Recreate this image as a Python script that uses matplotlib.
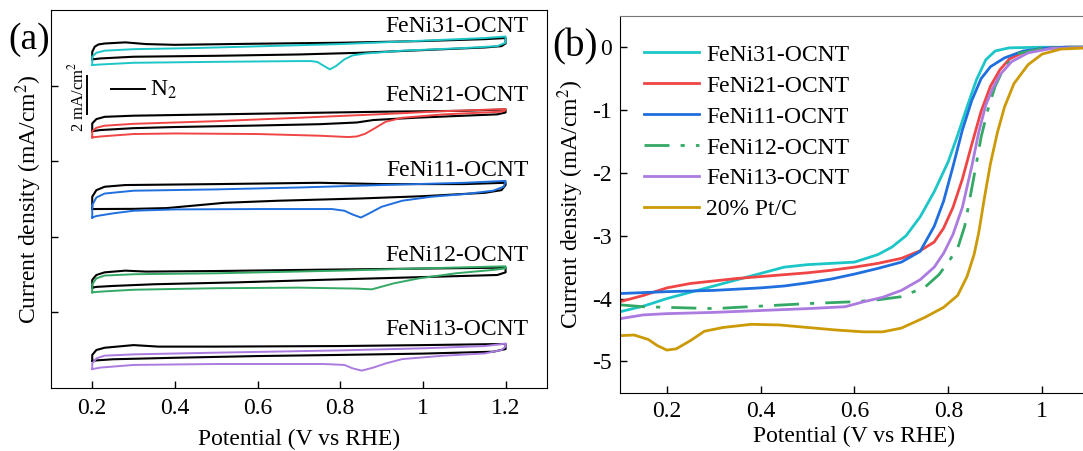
import matplotlib
matplotlib.use('Agg')
import matplotlib.pyplot as plt
import numpy as np
from matplotlib.ticker import FuncFormatter

plt.rcParams['font.family'] = ['Liberation Serif', 'DejaVu Serif']
plt.rcParams['mathtext.fontset'] = 'stix'
plt.rcParams['axes.unicode_minus'] = False
plt.rcParams['font.size'] = 17

# ---- panel (a): CV loops, (potential V, current mA/cm2), anodic then cathodic
CV31_N2 = [(0.200, -0.11), (0.200, 0.29), (0.206, 0.56), (0.215, 0.68), (0.23, 0.73), (0.28, 0.79),
           (0.33, 0.70), (0.40, 0.66), (0.60, 0.72), (0.80, 0.77), (1.00, 0.86), (1.15, 0.96), (1.20, 1.02),
           (1.20, 0.73), (1.19, 0.59), (1.15, 0.52), (1.00, 0.38), (0.85, 0.24), (0.70, 0.15), (0.50, 0.08),
           (0.30, 0.03), (0.22, -0.06), (0.200, -0.11)]
CV31_O2 = [(0.200, -0.41), (0.200, 0.03), (0.21, 0.24), (0.23, 0.35), (0.30, 0.43), (0.45, 0.49), (0.60, 0.58),
           (0.80, 0.70), (1.00, 0.88), (1.15, 1.02), (1.20, 1.10),
           (1.20, 0.77), (1.18, 0.59), (1.10, 0.49), (0.95, 0.35), (0.86, 0.20), (0.83, 0.10), (0.81, -0.11),
           (0.79, -0.46), (0.775, -0.64), (0.76, -0.45), (0.745, -0.25), (0.73, -0.20), (0.70, -0.20),
           (0.50, -0.24), (0.30, -0.29), (0.22, -0.38), (0.200, -0.41)]
CV21_N2 = [(0.200, -0.41), (0.200, 0.0), (0.21, 0.23), (0.23, 0.35), (0.30, 0.41), (0.50, 0.48), (0.70, 0.55),
           (0.90, 0.62), (1.10, 0.67), (1.20, 0.74),
           (1.20, 0.58), (1.18, 0.48), (1.10, 0.41), (0.98, 0.30), (0.88, 0.18), (0.84, 0.05), (0.75, -0.04),
           (0.60, -0.11), (0.40, -0.19), (0.30, -0.25), (0.22, -0.35), (0.200, -0.41)]
CV21_O2 = [(0.200, -0.74), (0.200, -0.41), (0.21, -0.23), (0.23, -0.12), (0.30, -0.02), (0.50, 0.12),
           (0.70, 0.30), (0.90, 0.49), (1.05, 0.65), (1.20, 0.76),
           (1.20, 0.70), (1.19, 0.62), (1.15, 0.58), (1.05, 0.48), (0.95, 0.30), (0.91, 0.09), (0.88, -0.30),
           (0.86, -0.55), (0.84, -0.69), (0.82, -0.72), (0.75, -0.65), (0.60, -0.56), (0.40, -0.53),
           (0.30, -0.56), (0.22, -0.69), (0.200, -0.74)]
CV11_N2 = [(0.200, -0.53), (0.200, 0.12), (0.21, 0.47), (0.23, 0.65), (0.28, 0.74), (0.50, 0.79), (0.75, 0.86),
           (0.90, 0.79), (1.10, 0.79), (1.20, 0.86),
           (1.20, 0.74), (1.19, 0.47), (1.15, 0.33), (1.00, 0.15), (0.85, 0.03), (0.65, -0.09), (0.52, -0.20),
           (0.45, -0.34), (0.38, -0.48), (0.30, -0.52), (0.200, -0.53)]
CV11_O2 = [(0.200, -0.98), (0.200, -0.32), (0.21, 0.08), (0.23, 0.29), (0.30, 0.44), (0.50, 0.51), (0.70, 0.61),
           (0.90, 0.74), (1.10, 0.86), (1.20, 0.96),
           (1.20, 0.91), (1.195, 0.65), (1.17, 0.44), (1.10, 0.26), (1.02, 0.12), (0.95, -0.09), (0.90, -0.41),
           (0.87, -0.76), (0.85, -0.98), (0.83, -0.82), (0.81, -0.62), (0.78, -0.53), (0.60, -0.53),
           (0.40, -0.55), (0.30, -0.62), (0.25, -0.76), (0.21, -0.90), (0.200, -0.98)]
CV12_N2 = [(0.200, -0.69), (0.200, -0.28), (0.21, -0.02), (0.23, 0.12), (0.28, 0.21), (0.33, 0.16), (0.50, 0.19),
           (0.75, 0.26), (1.00, 0.32), (1.20, 0.37),
           (1.20, 0.12), (1.18, -0.02), (1.10, -0.07), (0.95, -0.16), (0.75, -0.28), (0.55, -0.41),
           (0.35, -0.51), (0.25, -0.60), (0.21, -0.65), (0.200, -0.69)]
CV12_O2 = [(0.200, -0.94), (0.200, -0.51), (0.21, -0.20), (0.23, -0.05), (0.30, 0.02), (0.50, 0.07), (0.80, 0.21),
           (1.00, 0.33), (1.20, 0.44),
           (1.20, 0.33), (1.17, 0.25), (1.08, 0.07), (0.99, -0.20), (0.93, -0.46), (0.90, -0.64), (0.876, -0.78),
           (0.84, -0.74), (0.70, -0.69), (0.50, -0.72), (0.30, -0.80), (0.22, -0.90), (0.200, -0.94)]
CV13_N2 = [(0.200, -0.57), (0.200, -0.25), (0.21, 0.01), (0.23, 0.13), (0.30, 0.27), (0.36, 0.19), (0.50, 0.19),
           (0.80, 0.22), (1.00, 0.27), (1.20, 0.33),
           (1.20, 0.06), (1.17, -0.08), (1.00, -0.18), (0.80, -0.25), (0.60, -0.31), (0.40, -0.40),
           (0.25, -0.48), (0.21, -0.54), (0.200, -0.57)]
CV13_O2 = [(0.200, -1.00), (0.200, -0.70), (0.21, -0.43), (0.23, -0.29), (0.30, -0.22), (0.50, -0.13),
           (0.80, -0.01), (1.00, 0.10), (1.15, 0.22), (1.20, 0.35),
           (1.20, 0.19), (1.19, 0.01), (1.15, -0.17), (1.05, -0.29), (0.95, -0.47), (0.91, -0.70),
           (0.88, -0.92), (0.852, -1.08), (0.83, -0.96), (0.81, -0.78), (0.76, -0.73), (0.50, -0.73),
           (0.30, -0.78), (0.22, -0.92), (0.200, -1.00)]

CV_NAMES = ['FeNi31-OCNT', 'FeNi21-OCNT', 'FeNi11-OCNT', 'FeNi12-OCNT', 'FeNi13-OCNT']
CV_N2 = [CV31_N2, CV21_N2, CV11_N2, CV12_N2, CV13_N2]
CV_O2 = [CV31_O2, CV21_O2, CV11_O2, CV12_O2, CV13_O2]
CV_OFFSETS = [17.5, 14.0, 10.0, 6.0, 2.0]
CV_LABEL_Y = [18.85, 15.2, 11.23, 6.74, 2.8]

# ---- panel (b): LSV curves
V31 = [0.10, 0.15, 0.20, 0.25, 0.30, 0.35, 0.40, 0.45, 0.50, 0.55, 0.60, 0.65, 0.68, 0.71, 0.74, 0.77,
       0.80, 0.82, 0.84, 0.86, 0.88, 0.90, 0.93, 1.00, 1.10]
J31 = [-4.21, -4.12, -4.00, -3.90, -3.80, -3.70, -3.60, -3.50, -3.46, -3.44, -3.42, -3.30, -3.18, -3.00,
       -2.70, -2.30, -1.82, -1.40, -0.95, -0.52, -0.20, -0.06, -0.01, 0.0, 0.0]
V21 = [0.10, 0.15, 0.20, 0.25, 0.30, 0.35, 0.40, 0.45, 0.50, 0.55, 0.60, 0.65, 0.70, 0.74, 0.77, 0.79,
       0.81, 0.83, 0.85, 0.87, 0.89, 0.91, 0.93, 0.96, 1.00, 1.05, 1.10]
J21 = [-4.05, -3.95, -3.83, -3.76, -3.72, -3.68, -3.65, -3.62, -3.59, -3.55, -3.50, -3.44, -3.36, -3.24,
       -3.10, -2.88, -2.55, -2.10, -1.55, -1.02, -0.62, -0.36, -0.19, -0.08, -0.02, 0.0, 0.0]
V11 = [0.10, 0.20, 0.30, 0.40, 0.45, 0.50, 0.55, 0.60, 0.65, 0.70, 0.74, 0.77, 0.79, 0.81, 0.83, 0.85,
       0.87, 0.89, 0.92, 0.96, 1.00, 1.05, 1.10]
J11 = [-3.92, -3.89, -3.87, -3.83, -3.80, -3.75, -3.69, -3.61, -3.52, -3.42, -3.25, -2.85, -2.45, -1.90,
       -1.32, -0.85, -0.50, -0.31, -0.17, -0.06, -0.02, 0.0, 0.0]
V12 = [0.10, 0.15, 0.20, 0.30, 0.40, 0.50, 0.60, 0.65, 0.70, 0.75, 0.78, 0.80, 0.82, 0.835, 0.85, 0.86,
       0.87, 0.885, 0.90, 0.92, 0.95, 1.00, 1.05, 1.10]
J12 = [-4.10, -4.13, -4.14, -4.16, -4.12, -4.08, -4.05, -4.02, -3.97, -3.82, -3.62, -3.42, -3.20, -2.85,
       -2.25, -1.85, -1.43, -0.98, -0.62, -0.31, -0.10, -0.02, 0.0, 0.0]
V13 = [0.10, 0.15, 0.20, 0.30, 0.40, 0.50, 0.58, 0.62, 0.66, 0.70, 0.74, 0.77, 0.79, 0.81, 0.83, 0.85,
       0.865, 0.88, 0.895, 0.91, 0.935, 0.97, 1.02, 1.10]
J13 = [-4.32, -4.26, -4.24, -4.22, -4.19, -4.16, -4.13, -4.05, -3.98, -3.87, -3.70, -3.50, -3.28, -2.98,
       -2.55, -1.90, -1.35, -0.92, -0.65, -0.44, -0.23, -0.09, -0.02, 0.0]
VPT = [0.10, 0.13, 0.16, 0.18, 0.20, 0.22, 0.25, 0.28, 0.32, 0.38, 0.44, 0.50, 0.56, 0.62, 0.66, 0.70,
       0.75, 0.79, 0.82, 0.84, 0.855, 0.865, 0.877, 0.89, 0.905, 0.92, 0.94, 0.97, 1.00, 1.04, 1.10]
JPT = [-4.59, -4.58, -4.65, -4.75, -4.82, -4.80, -4.67, -4.52, -4.46, -4.41, -4.42, -4.46, -4.50, -4.53,
       -4.53, -4.47, -4.30, -4.14, -3.95, -3.65, -3.30, -2.95, -2.40, -1.85, -1.35, -0.95, -0.58, -0.28,
       -0.11, -0.03, -0.01]

LSV_NAMES = ['FeNi31-OCNT', 'FeNi21-OCNT', 'FeNi11-OCNT', 'FeNi12-OCNT', 'FeNi13-OCNT', '20% Pt/C']
LSV_V = [V31, V21, V11, V12, V13, VPT]
LSV_J = [J31, J21, J11, J12, J13, JPT]

COLORS = ['#1cc6c8', '#f04545', '#1f6fde', '#34a865', '#ab7be0', '#cc9a06']
LSV_STYLES = ['-', '-', '-', (0, (9, 4, 1.5, 4)), '-', '-']


def fmt(v, p):
    return f'{v:g}'


fig = plt.figure(figsize=(10.83, 4.51), dpi=100)
ax1 = fig.add_axes([0.047, 0.1397, 0.458, 0.838])
ax2 = fig.add_axes([0.5725, 0.129, 0.433, 0.836])

# panel (a)
for name, n2, o2, off, ly, c in zip(CV_NAMES, CV_N2, CV_O2, CV_OFFSETS, CV_LABEL_Y, COLORS):
    x, j = zip(*n2)
    ax1.plot(x, np.array(j) + off, color='black', lw=1.5)
    x, j = zip(*o2)
    ax1.plot(x, np.array(j) + off, color=c, lw=1.4)
    ax1.text(1.255, ly, name, ha='right', va='baseline', fontsize=17)

# scale bar and N2 key
ax1.plot([0.188, 0.188], [14.5, 16.5], color='black', lw=1.4)
ax1.text(0.163, 15.4, '2 mA/cm$^2$', rotation=90, ha='center', va='center', fontsize=12)
ax1.plot([0.246, 0.328], [15.8, 15.8], color='black', lw=1.4)
ax1.text(0.34, 15.8, 'N$_2$', ha='left', va='center', fontsize=17)

ax1.set_xlim(0.1, 1.3)
ax1.set_ylim(0, 20)
ax1.set_xticks([0.2, 0.4, 0.6, 0.8, 1.0, 1.2])
ax1.set_yticks([4, 8, 12, 16])
ax1.set_yticklabels([])
ax1.xaxis.set_major_formatter(FuncFormatter(fmt))
ax1.tick_params(direction='in', length=5, width=1, labelsize=17, pad=7)
ax1.set_xlabel('Potential (V vs RHE)', fontsize=17, labelpad=7)
ax1.set_ylabel('Current density (mA/cm$^2$)', fontsize=17, labelpad=-2)

# panel (b)
for name, v, j, c, ls in zip(LSV_NAMES, LSV_V, LSV_J, COLORS, LSV_STYLES):
    ax2.plot(v, j, color=c, lw=2, linestyle=ls, label=name)

ax2.set_xlim(0.1, 1.1)
ax2.set_ylim(-5.5, 0.5)
ax2.set_xticks([0.2, 0.4, 0.6, 0.8, 1.0])
ax2.set_yticks([0, -1, -2, -3, -4, -5])
ax2.xaxis.set_major_formatter(FuncFormatter(fmt))
ax2.yaxis.set_major_formatter(FuncFormatter(fmt))
ax2.tick_params(direction='in', length=5, width=1, labelsize=17, pad=6)
ax2.spines['top'].set_color('#777777')
ax2.set_xlabel('Potential (V vs RHE)', fontsize=17, labelpad=3)
ax2.set_ylabel('Current density (mA/cm$^2$)', fontsize=17, labelpad=4)
ax2.legend(loc='upper left', bbox_to_anchor=(0.051, 0.925), frameon=False, borderpad=0,
           borderaxespad=0, handlelength=2.33, handletextpad=0.3, labelspacing=0.4, fontsize=17)

fig.text(29 / 1083, 1 - 40 / 451, '(a)', fontsize=27, ha='center', va='center')
fig.text(575 / 1083, 1 - 47 / 451, '(b)', fontsize=28, ha='center', va='center')

fig.savefig('out.png', dpi=100)
